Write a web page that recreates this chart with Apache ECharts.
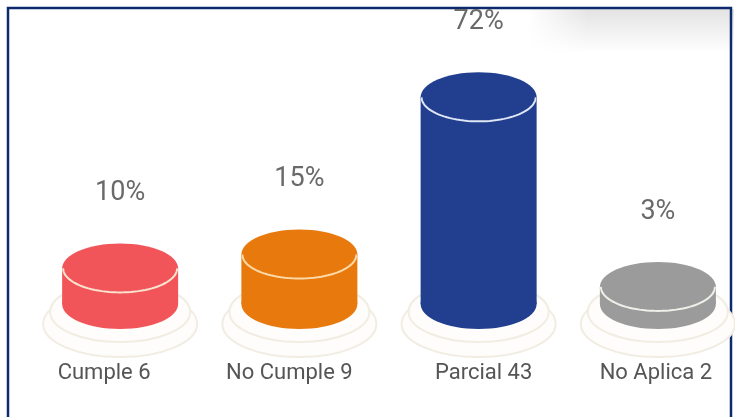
<!DOCTYPE html>
<html>
<head>
<meta charset="utf-8">
<script src="https://cdn.jsdelivr.net/npm/echarts@6/dist/echarts.min.js"></script>
<style>
html,body{margin:0;padding:0;background:#ffffff;}
#chart{width:735px;height:417px;}
</style>
</head>
<body>
<div id="chart"></div>
<script>
// ---- data ----
var categories = ['Cumple', 'No Cumple', 'Parcial', 'No Aplica'];
var counts = [6, 9, 43, 2];
var percents = [10, 15, 72, 3];

// ---- styles ----
var bodyColors = ['#f25559', '#e8790c', '#213f8e', '#9b9b9b'];
var rimColors = ['#fbe3d0', '#fcd9a6', '#dfe6f6', '#f0f0ea'];
var Y_MIN = -1.7;
var RX = 58, RY = 25;

var chart = echarts.init(document.getElementById('chart'), null, {renderer: 'canvas'});

function halfEllipse(cx, cy, rx, ry) {
  var pts = [];
  for (var k = 0; k <= 48; k++) {
    var a = Math.PI - Math.PI * k / 48;
    pts.push([cx + rx * Math.cos(a), cy + ry * Math.sin(a)]);
  }
  return pts;
}

function renderItem(params, api) {
  var idx = api.value(0);
  var top = api.coord([idx, api.value(1)]);
  var bot = api.coord([idx, Y_MIN]);
  var cx = top[0];
  var col = bodyColors[idx];
  return {
    type: 'group',
    children: [
      {type: 'ellipse', shape: {cx: cx, cy: bot[1] + 20, rx: 77, ry: 33},
        style: {fill: '#fefdfb', stroke: '#f1ede3', lineWidth: 2}},
      {type: 'ellipse', shape: {cx: cx, cy: bot[1] + 8, rx: 70, ry: 30},
        style: {fill: '#fefdfb', stroke: '#f1ede3', lineWidth: 2}},
      {type: 'ellipse', shape: {cx: cx, cy: bot[1], rx: RX, ry: RY},
        style: {fill: col}},
      {type: 'rect', shape: {x: cx - RX, y: top[1], width: RX * 2, height: bot[1] - top[1]},
        style: {fill: col}},
      {type: 'ellipse', shape: {cx: cx, cy: top[1], rx: RX, ry: RY},
        style: {fill: col}},
      {type: 'polyline', shape: {points: halfEllipse(cx, top[1], RX - 1, RY - 1)},
        style: {stroke: rimColors[idx], lineWidth: 2, fill: null}},
      {type: 'text', x: cx, y: top[1] - RY - 50,
        style: {text: percents[idx] + '%', fill: '#6a6a6a', font: '27px Roboto',
          align: 'center', verticalAlign: 'middle'}}
    ]
  };
}

var option = {
  backgroundColor: '#ffffff',
  animation: false,
  grid: {left: 30.5, width: 717, top: 65, bottom: 113, outerBoundsMode: 'none', containLabel: false},
  xAxis: {
    type: 'category',
    data: categories,
    axisLine: {show: false},
    axisTick: {show: false},
    axisLabel: {
      interval: 0,
      hideOverlap: false,
      margin: 58,
      color: '#555555',
      fontSize: 22,
      fontFamily: 'Roboto',
      formatter: function (v, i) { return '{s' + i + '|' + v + ' ' + counts[i] + '}'; },
      rich: {
        s0: {fontSize: 22, color: '#555555', padding: [0, 32, 0, 0]},
        s1: {fontSize: 22, color: '#555555', padding: [0, 20, 0, 0]},
        s2: {fontSize: 22, color: '#555555', padding: [0, 0, 0, 10]},
        s3: {fontSize: 22, color: '#555555', padding: [0, 4, 0, 0]}
      }
    }
  },
  yAxis: {
    type: 'value', min: Y_MIN, max: 50, show: false
  },
  series: [{
    type: 'custom',
    renderItem: renderItem,
    data: counts.map(function (c, i) { return [i, c]; }),
    clip: false
  }],
  graphic: [
    {type: 'rect', shape: {x: 530, y: 9, width: 204, height: 44},
      style: {fill: new echarts.graphic.LinearGradient(0, 0, 0, 1, [
        {offset: 0, color: 'rgba(0,0,0,0.11)'},
        {offset: 1, color: 'rgba(0,0,0,0)'}])}},
    {type: 'rect', shape: {x: 528, y: 9, width: 60, height: 46},
      style: {fill: new echarts.graphic.LinearGradient(0, 0, 1, 0, [
        {offset: 0, color: 'rgba(255,255,255,1)'},
        {offset: 1, color: 'rgba(255,255,255,0)'}])}},
    {type: 'rect', shape: {x: 8, y: 8, width: 723, height: 425},
      style: {fill: null, stroke: '#0c2a6c', lineWidth: 2.5}}
  ]
};
chart.setOption(option);
</script>
</body>
</html>
